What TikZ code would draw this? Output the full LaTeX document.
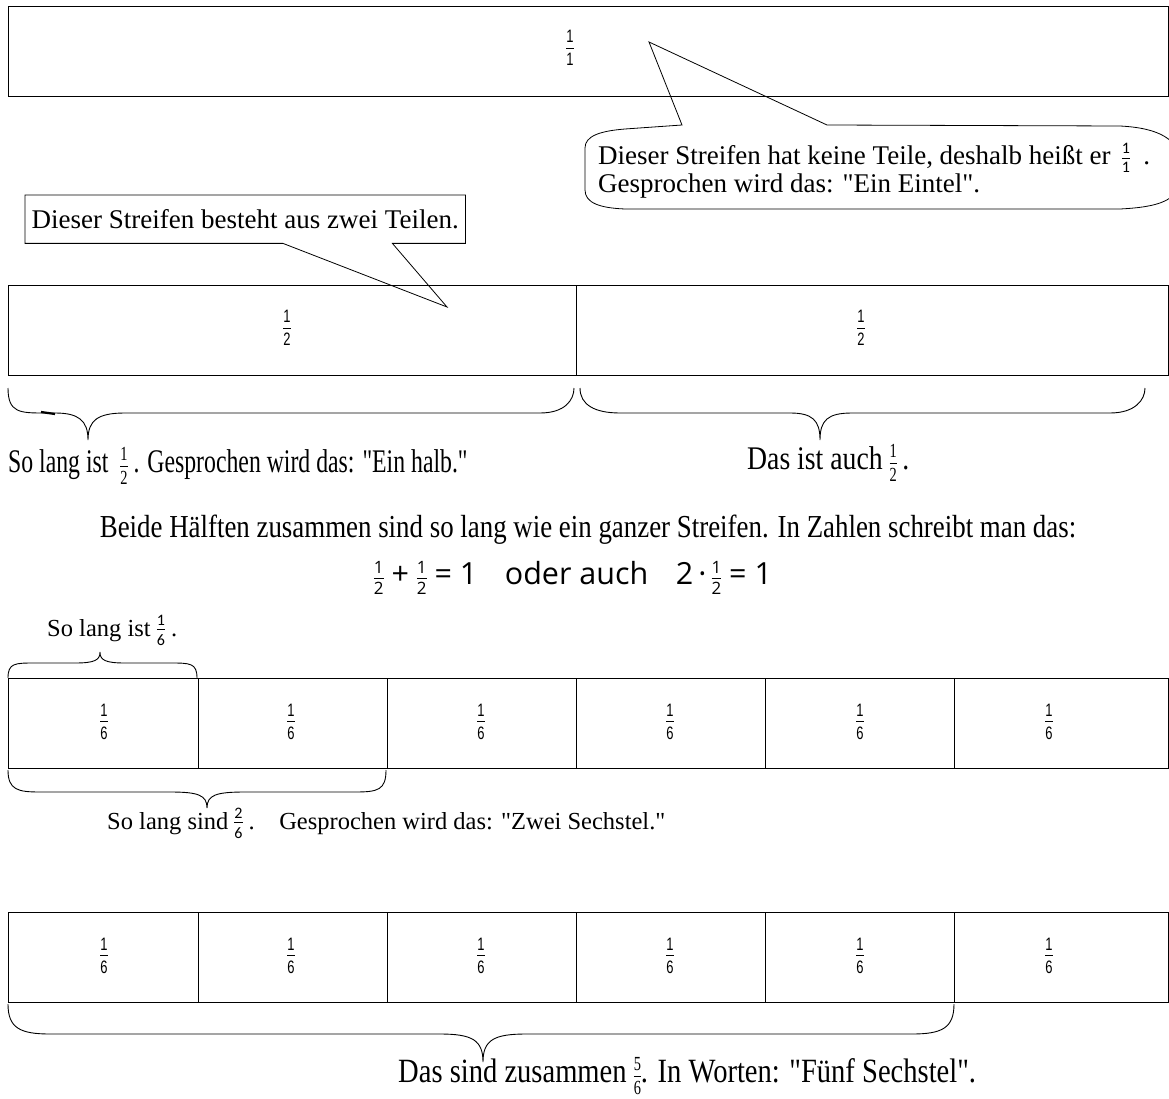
\documentclass[tikz,border=0pt]{standalone}
\usepackage{fontspec}
\setmainfont{Liberation Serif}
\newfontfamily\talkfont{Liberation Serif}
\newfontfamily\narrowfont[FakeStretch=0.84]{Liberation Serif}
\newfontfamily\narrowerfont[FakeStretch=0.72]{Liberation Serif}
\newfontfamily\cellfont[FakeStretch=0.72]{Liberation Sans}
\newfontfamily\fracfont{Carlito}
\newfontfamily\eqfont{Open Sans}

\newcommand{\fr}[3]{\ensuremath{\vcenter{\hbox{#1\vbox{\halign{\hfil##\hfil\cr#2\cr\noalign{\kern.26em\hrule height.7pt\kern.26em}#3\cr}}}}}}
\newcommand{\cellfrac}[2]{\fr{\cellfont\fontsize{18}{18}\selectfont}{#1}{#2}}
\newcommand{\talkfrac}[2]{\fr{\fracfont\fontsize{16}{16}\selectfont}{#1}{#2}}
\newcommand{\remarkfrac}[2]{\fr{\narrowerfont\fontsize{20}{20}\selectfont}{#1}{#2}}
\newcommand{\eqfrac}[2]{\fr{\eqfont\fontsize{17}{17}\selectfont}{#1}{#2}}

\tikzset{
  strip/.style={rectangle, draw, line width=0.9pt, minimum height=90pt, anchor=north west, inner sep=0pt},
  talk/.style={inner sep=0pt, font=\talkfont\fontsize{27}{25}\selectfont, align=left},
  note/.style={inner sep=0pt, font=\talkfont\fontsize{24.5}{28}\selectfont},
  remark/.style={inner sep=0pt, font=\narrowfont\fontsize{33}{36}\selectfont},
  bubble/.style={draw, line width=0.8pt},
  curly/.style={draw, line width=0.9pt},
}

\begin{document}
\begin{tikzpicture}[x=1pt, y=-1pt]
\useasboundingbox (0,0) rectangle (1169,1099);

% ganzer Streifen
\node (whole) [strip, minimum width=1160pt] at (8,6) {};
\node (wholefrac) at (570,48) {\cellfrac{1}{1}};

% Sprechblase Eintel
\coordinate (tipA) at (649,42);
\node (eintel) [talk, anchor=north west] at (598,143) {Dieser Streifen hat keine Teile, deshalb heißt er\ \,\talkfrac{1}{1}\ \ .\\Gesprochen wird das: "Ein Eintel".};
\draw [bubble] (682,125) -- (tipA) -- (827,125) -- (1120,126) .. controls (1160,128) and (1178,140) .. (1180,160) -- (1180,180) .. controls (1178,200) and (1160,207) .. (1120,209) -- (625,209) .. controls (600,208) and (585,203) .. (585,190) -- (585,148) .. controls (585,136) and (600,131) .. (625,129) -- cycle;

% Sprechblase zwei Teile
\coordinate (tipB) at (447,307);
\node (zweiteile) [talk, minimum width=440pt, minimum height=48pt, anchor=north west] at (25,195) {Dieser Streifen besteht aus zwei Teilen.};
\draw [bubble] ([xshift=258pt]zweiteile.south west) -- (zweiteile.south west) -- (zweiteile.north west) -- (zweiteile.north east) -- (zweiteile.south east) -- ([xshift=-73pt]zweiteile.south east) -- (tipB) -- cycle;

% Halbe
\node (halfA) [strip, minimum width=568pt] at (8,285) {};
\node (halfAfrac) at (287,328) {\cellfrac{1}{2}};
\node (halfB) [strip, minimum width=592pt] at (576,285) {};
\node (halfBfrac) at (861,328) {\cellfrac{1}{2}};

\draw [curly] (8,388) .. controls (8,413) and (20,413) .. (45,413) -- (55,413) .. controls (78,413) and (88,420) .. (88,440) .. controls (88,420) and (98,413) .. (125,413) -- (540,413) .. controls (565,413) and (574,400) .. (574,388);
\draw [line width=2.2pt] (41,412) -- (55,414);
\draw [curly] (580,388) .. controls (580,405) and (595,413) .. (620,413) -- (790,413) .. controls (812,413) and (820,420) .. (820,440) .. controls (820,420) and (828,413) .. (852,413) -- (1110,413) .. controls (1135,413) and (1145,400) .. (1145,388);

\node (halbtext) [remark, font=\narrowerfont\fontsize{33}{36}\selectfont, anchor=west] at (8,466) {So lang ist\ \ \remarkfrac{1}{2}\ . Gesprochen wird das: "Ein halb."};
\node (auchtext) [remark, anchor=west] at (747,463) {Das ist auch \remarkfrac{1}{2}\,.};

\node (beide) [remark, font=\narrowfont\fontsize{32}{36}\selectfont] at (588,530) {Beide Hälften zusammen sind so lang wie ein ganzer Streifen. In Zahlen schreibt man das:};
\node (gleichung) [inner sep=0pt, font=\eqfont\fontsize{30.5}{32}\selectfont] at (573,578) {\eqfrac{1}{2} + \eqfrac{1}{2} = 1\hspace{.9em}oder auch\hspace{.9em}2\,·\,\eqfrac{1}{2} = 1};

% erste Sechstel
\node (sechsteltext) [note, anchor=west] at (47,630) {So lang ist \talkfrac{1}{6}\ .};
\draw [curly] (8,678) .. controls (8,663) and (15,663) .. (35,663) -- (75,663) .. controls (95,663) and (100,660) .. (100,652) .. controls (100,660) and (105,663) .. (125,663) -- (170,663) .. controls (190,663) and (197,663) .. (197,678);

\node (sixA0) [strip, minimum width=190pt] at (8,678) {};
\node (fracA0) at (104,722) {\cellfrac{1}{6}};
\node (sixA1) [strip, minimum width=189pt] at (198,678) {};
\node (fracA1) at (291,722) {\cellfrac{1}{6}};
\node (sixA2) [strip, minimum width=189pt] at (387,678) {};
\node (fracA2) at (481,722) {\cellfrac{1}{6}};
\node (sixA3) [strip, minimum width=189pt] at (576,678) {};
\node (fracA3) at (670,722) {\cellfrac{1}{6}};
\node (sixA4) [strip, minimum width=189pt] at (765,678) {};
\node (fracA4) at (860,722) {\cellfrac{1}{6}};
\node (sixA5) [strip, minimum width=214pt] at (954,678) {};
\node (fracA5) at (1049,722) {\cellfrac{1}{6}};

\draw [curly] (8,770) .. controls (8,790) and (18,792) .. (40,792) -- (170,792) .. controls (198,792) and (207,795) .. (207,808) .. controls (207,795) and (216,792) .. (245,792) -- (355,792) .. controls (378,792) and (386,790) .. (386,770);
\node (zweisechstel) [note, anchor=west] at (107,823) {So lang sind \talkfrac{2}{6}\ .\quad Gesprochen wird das: "Zwei Sechstel."};

% zweite Sechstel
\node (sixB0) [strip, minimum width=190pt] at (8,912) {};
\node (fracB0) at (104,956) {\cellfrac{1}{6}};
\node (sixB1) [strip, minimum width=189pt] at (198,912) {};
\node (fracB1) at (291,956) {\cellfrac{1}{6}};
\node (sixB2) [strip, minimum width=189pt] at (387,912) {};
\node (fracB2) at (481,956) {\cellfrac{1}{6}};
\node (sixB3) [strip, minimum width=189pt] at (576,912) {};
\node (fracB3) at (670,956) {\cellfrac{1}{6}};
\node (sixB4) [strip, minimum width=189pt] at (765,912) {};
\node (fracB4) at (860,956) {\cellfrac{1}{6}};
\node (sixB5) [strip, minimum width=214pt] at (954,912) {};
\node (fracB5) at (1049,956) {\cellfrac{1}{6}};

\draw [curly] (8,1004) .. controls (8,1028) and (20,1034) .. (50,1034) -- (440,1034) .. controls (472,1034) and (483,1040) .. (483,1062) .. controls (483,1040) and (494,1034) .. (526,1034) -- (912,1034) .. controls (942,1034) and (954,1028) .. (954,1004);
\node (fuenfsechstel) [remark, font=\narrowfont\fontsize{34}{36}\selectfont, anchor=west] at (398,1076) {Das sind zusammen \remarkfrac{5}{6}. In Worten: "Fünf Sechstel".};
\end{tikzpicture}
\end{document}
